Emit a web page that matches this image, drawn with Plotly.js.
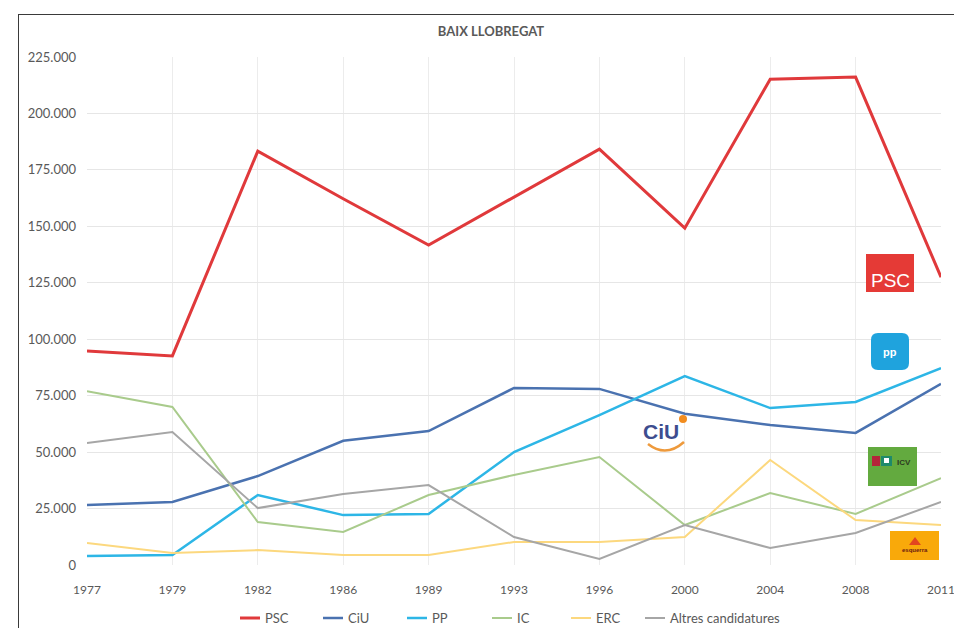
<!DOCTYPE html>
<html>
<head>
<meta charset="utf-8">
<script src="https://cdn.plot.ly/plotly-3.0.1.min.js"></script>
<style>
  html, body { margin: 0; padding: 0; background: #fff; }
  #wrap { position: relative; width: 954px; height: 628px; overflow: hidden; }
  #chart { position: absolute; left: 0; top: 0; width: 954px; height: 628px; }
  #frame {
    position: absolute; left: 18px; top: 14px; right: -2px; bottom: -2px;
    border-left: 1px solid #3a3a3a; border-top: 1px solid #3a3a3a;
    pointer-events: none;
  }
</style>
</head>
<body>
<div id="wrap">
  <div id="chart"></div>
  <div id="frame"></div>
</div>
<script>
// ------------------------------
// Data (votes per party, Baix Llobregat)
// ------------------------------
const years = ["1977", "1979", "1982", "1986", "1989", "1993", "1996", "2000", "2004", "2008", "2011"];

const psc    = [94800, 92600, 183300, 162200, 141700, 163000, 184200, 149200, 215200, 216100, 127500];
const ciu    = [26600, 27900, 39400, 55000, 59300, 78400, 78000, 67000, 62000, 58500, 80200];
const pp     = [4000, 4400, 31000, 22100, 22600, 50000, 66400, 83700, 69500, 72200, 87200];
const ic     = [77000, 70000, 19000, 14600, 31000, 39900, 47800, 17700, 31900, 22600, 38500];
const erc    = [9700, 5300, 6600, 4400, 4400, 10200, 10200, 12400, 46500, 19900, 17700];
const altres = [54000, 58900, 25200, 31400, 35400, 12400, 2700, 17700, 7500, 14200, 27900];

const seriesNames  = ["PSC", "CiU", "PP", "IC", "ERC", "Altres candidatures"];
const seriesColors = ["#e0393b", "#4a72b0", "#2db6e6", "#a9cb8c", "#fcd87e", "#a6a6a6"];
const seriesWidths = [3, 2.5, 2.5, 2, 2, 2];

// ------------------------------
// Helpers (pixel -> paper coords for legend and logo decorations)
// ------------------------------
const L = 87, R = 941, T = 57, B = 565;
const px = x => (x - L) / (R - L);
const py = y => (B - y) / (B - T);

function rect(x0, y0, x1, y1, fill) {
  return { type: "rect", xref: "paper", yref: "paper",
    x0: px(x0), x1: px(x1), y0: py(y1), y1: py(y0),
    fillcolor: fill, line: { width: 0 }, layer: "above" };
}

function label(x, y, text, size, color, bold, anchor) {
  return { xref: "paper", yref: "paper", x: px(x), y: py(y),
    text: bold ? "<b>" + text + "</b>" : text, showarrow: false,
    font: { family: "Liberation Sans, Arial, sans-serif", size: size, color: color },
    xanchor: anchor || "center", yanchor: "middle" };
}

function roundRect(x0, y0, x1, y1, r, fill) {
  const p = [
    `M ${px(x0 + r)} ${py(y0)}`,
    `L ${px(x1 - r)} ${py(y0)}`,
    `Q ${px(x1)} ${py(y0)} ${px(x1)} ${py(y0 + r)}`,
    `L ${px(x1)} ${py(y1 - r)}`,
    `Q ${px(x1)} ${py(y1)} ${px(x1 - r)} ${py(y1)}`,
    `L ${px(x0 + r)} ${py(y1)}`,
    `Q ${px(x0)} ${py(y1)} ${px(x0)} ${py(y1 - r)}`,
    `L ${px(x0)} ${py(y0 + r)}`,
    `Q ${px(x0)} ${py(y0)} ${px(x0 + r)} ${py(y0)} Z`
  ].join(" ");
  return { type: "path", xref: "paper", yref: "paper", path: p,
    fillcolor: fill, line: { width: 0 }, layer: "above" };
}

// ------------------------------
// Traces
// ------------------------------
const allValues = [psc, ciu, pp, ic, erc, altres];
const traces = allValues.map((vals, i) => ({
  type: "scatter",
  mode: "lines",
  x: years,
  y: vals,
  name: seriesNames[i],
  line: { color: seriesColors[i], width: seriesWidths[i] },
  hovertemplate: "%{x}<br>%{y:,d}<extra>" + seriesNames[i] + "</extra>",
}));

// ------------------------------
// Legend (drawn by hand, Excel-style short line + label)
// ------------------------------
const legendX = [240, 323, 407, 492, 571, 645];
const legendY = 618;
const shapes = [];
const annotations = [];
seriesNames.forEach((name, i) => {
  shapes.push({ type: "line", xref: "paper", yref: "paper",
    x0: px(legendX[i]), x1: px(legendX[i] + 20), y0: py(legendY), y1: py(legendY),
    line: { color: seriesColors[i], width: seriesWidths[i] } });
  annotations.push({ xref: "paper", yref: "paper",
    x: px(legendX[i] + 23), y: py(legendY), text: name, showarrow: false,
    xanchor: "left", yanchor: "middle",
    font: { size: 13, color: "#595959" } });
});

// ------------------------------
// Logos (drawn with shapes + text)
// ------------------------------
shapes.push(
  rect(866, 254, 914, 292, "#e53a36"),
  roundRect(871, 333, 909, 370, 7, "#1fa3dd"),
  rect(868, 447, 917, 486, "#63aa3f"),
  rect(872, 456, 880, 466, "#b5253a"),
  rect(881, 456, 892, 466, "#1e8a6a"),
  rect(884, 458, 889, 463, "#ffffff"),
  rect(890, 531, 939, 560, "#f9a90a"),
  { type: "path", xref: "paper", yref: "paper",
    path: `M ${px(909)} ${py(545)} L ${px(915)} ${py(537)} L ${px(921)} ${py(545)} Z`,
    fillcolor: "#e2461f", line: { width: 0 }, layer: "above" },
  // CiU smile + dot
  { type: "path", xref: "paper", yref: "paper",
    path: `M ${px(648)} ${py(444)} Q ${px(666)} ${py(458)} ${px(684)} ${py(442)}`,
    line: { color: "#ee9a3c", width: 2.5 }, layer: "above" },
  { type: "circle", xref: "paper", yref: "paper",
    x0: px(679), x1: px(687), y0: py(423), y1: py(415),
    fillcolor: "#f28c1e", line: { width: 0 }, layer: "above" }
);

annotations.push(
  label(890, 280, "PSC", 19, "#ffffff", false),
  label(890, 352, "pp", 11, "#ffffff", true),
  label(904, 462, "ICV", 8, "#2d3a1f", true),
  label(915, 550, "esquerra", 6, "#6b1a10", true),
  label(661, 431, "CiU", 21, "#3d4d8f", true)
);

// ------------------------------
// Layout
// ------------------------------
const layout = {
  width: 954,
  height: 628,
  margin: { l: L, r: 954 - R, t: T, b: 628 - B },
  paper_bgcolor: "#ffffff",
  plot_bgcolor: "#ffffff",
  separators: ",.",
  font: { family: "Lato, 'Open Sans', sans-serif", size: 11, color: "#595959" },
  title: {
    text: "BAIX LLOBREGAT",
    font: { size: 13, color: "#595959", weight: "bold" },
    x: 491 / 954, xref: "container", xanchor: "center",
    y: 1 - 31 / 628, yref: "container", yanchor: "middle",
  },
  xaxis: {
    type: "category",
    range: [0, 10],
    showgrid: true,
    gridcolor: "#ececec",
    showline: false,
    zeroline: false,
    ticks: "",
    ticklabelstandoff: 16,
    tickfont: { size: 12, color: "#595959" },
  },
  yaxis: {
    range: [0, 225000],
    dtick: 25000,
    tickformat: ",d",
    showgrid: true,
    gridcolor: "#e6e6e6",
    zeroline: false,
    showline: false,
    ticks: "",
    ticklabelstandoff: 10,
    tickfont: { size: 13, color: "#595959" },
  },
  showlegend: false,
  shapes: shapes,
  annotations: annotations,
};

Plotly.newPlot("chart", traces, layout, { displayModeBar: false, responsive: false });
</script>
</body>
</html>
